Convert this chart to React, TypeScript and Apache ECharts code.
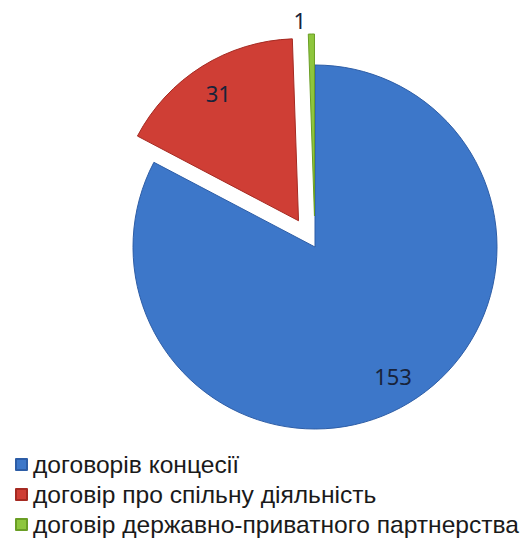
import React, { useEffect, useRef } from "react";
import * as echarts from "echarts";

const categories = [
  "договорів концесії",
  "договір про спільну діяльність",
  "договір державно-приватного партнерства",
];
const values = [153, 31, 1];
const exploded = [false, true, true];
const colors = ["#3d77c9", "#cf3e35", "#8ec63d"];
const borders = ["#2d5da6", "#a52a22", "#6a9e25"];

export default function App() {
  const ref = useRef<HTMLDivElement>(null);

  useEffect(() => {
    if (!ref.current) return;
    const chart = echarts.init(ref.current, null, { renderer: "svg" });

    const sliceData = categories.map((name, i) => ({
      name,
      value: values[i],
      selected: exploded[i],
      itemStyle: { color: colors[i], borderColor: borders[i], borderWidth: 1 },
    }));

    // transparent ring carrying the value labels at ~0.8 of the radius
    const labelData = categories.map((name, i) => ({
      name,
      value: values[i],
      selected: exploded[i],
      label:
        i === 2
          ? { position: "outside" as const }
          : { position: "inside" as const },
    }));

    chart.setOption({
      animation: false,
      color: colors,
      legend: {
        orient: "vertical",
        left: 10,
        top: 447,
        icon: "rect",
        itemWidth: 11,
        itemHeight: 11,
        itemGap: 5,
        data: categories,
        textStyle: {
          fontFamily: "Liberation Sans",
          fontSize: 24.6,
          lineHeight: 24,
          color: "#1a1a1a",
          padding: [0, 0, 0, 1],
        },
        selectedMode: false,
      },
      series: [
        {
          type: "pie",
          center: [315, 247],
          radius: [0, 182],
          startAngle: 90,
          clockwise: true,
          selectedMode: "multiple",
          selectedOffset: 31,
          silent: true,
          label: { show: false },
          labelLine: { show: false },
          emphasis: { disabled: true },
          data: sliceData,
        },
        {
          type: "pie",
          center: [315, 247],
          radius: [114, 182],
          startAngle: 90,
          clockwise: true,
          selectedMode: "multiple",
          selectedOffset: 31,
          silent: true,
          itemStyle: { color: "rgba(0,0,0,0)", borderWidth: 0 },
          label: {
            show: true,
            formatter: "{c}",
            fontFamily: "Noto Sans",
            fontSize: 22,
            color: "#18233a",
          },
          labelLine: { show: false, length: 14, length2: 0 },
          emphasis: { disabled: true },
          data: labelData,
        },
      ],
    });

    return () => chart.dispose();
  }, []);

  return (
    <div
      ref={ref}
      style={{ position: "fixed", left: 0, top: 0, width: 527, height: 546, background: "#fff" }}
    />
  );
}
